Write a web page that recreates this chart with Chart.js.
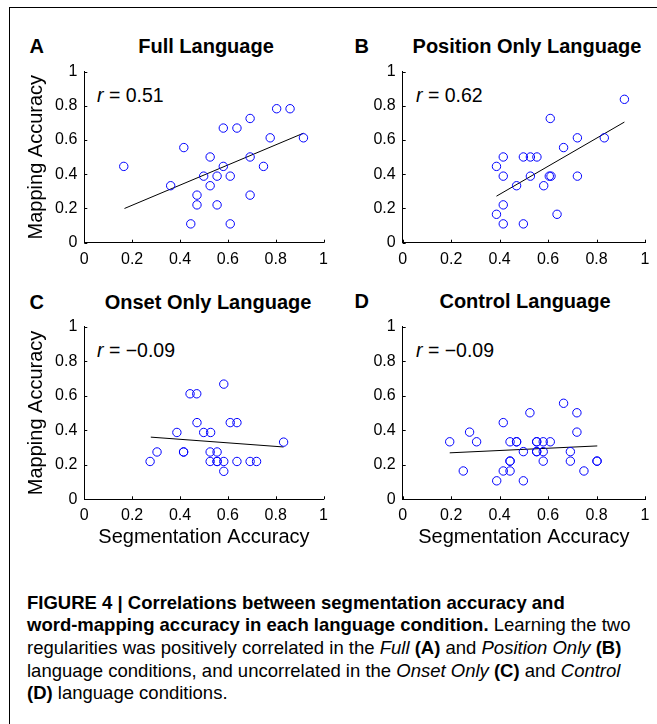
<!DOCTYPE html>
<html>
<head>
<meta charset="utf-8">
<script src="https://cdn.jsdelivr.net/npm/chart.js@4.4.1/dist/chart.umd.min.js"></script>
<style>
  html, body { margin: 0; padding: 0; background: #fff; }
  #page { position: relative; width: 657px; height: 724px; overflow: hidden; font-family: "Liberation Sans", Arial, sans-serif; color: #000; }
  #page canvas { position: absolute; }
  .frame { position: absolute; left: 8.5px; top: 6.5px; width: 700px; height: 800px; border-top: 1.6px solid #000; border-left: 1.6px solid #000; }
  .lbl { position: absolute; white-space: nowrap; }
  .letter { font-weight: bold; font-size: 20px; line-height: 20px; }
  .ptitle { font-weight: bold; font-size: 20px; line-height: 20px; transform: translateX(-50%); }
  .rtxt { font-size: 19.5px; line-height: 19.5px; }
  .caption { position: absolute; left: 27px; top: 591.5px; font-size: 18.5px; line-height: 22.7px; white-space: nowrap; }
</style>
</head>
<body>
<div id="page">
  <div class="frame"></div>

  <div class="lbl letter" style="left:29.5px; top:36px;">A</div>
  <div class="lbl ptitle" style="left:206px; top:36px;">Full Language</div>
  <div class="lbl letter" style="left:354.5px; top:36px;">B</div>
  <div class="lbl ptitle" style="left:527px; top:36px;">Position Only Language</div>
  <div class="lbl letter" style="left:29.5px; top:291.5px;">C</div>
  <div class="lbl ptitle" style="left:208px; top:291.5px;">Onset Only Language</div>
  <div class="lbl letter" style="left:354.5px; top:290.5px;">D</div>
  <div class="lbl ptitle" style="left:525px; top:290.5px;">Control Language</div>

  <div class="lbl rtxt" style="left:97px; top:85.5px;"><i>r</i> = 0.51</div>
  <div class="lbl rtxt" style="left:416px; top:85.5px;"><i>r</i> = 0.62</div>
  <div class="lbl rtxt" style="left:97px; top:340.5px;"><i>r</i> = −0.09</div>
  <div class="lbl rtxt" style="left:416px; top:340.5px;"><i>r</i> = −0.09</div>

  <div class="caption">
    <b>FIGURE 4 | Correlations between segmentation accuracy and</b><br>
    <b>word-mapping accuracy in each language condition.</b> Learning the two<br>
    regularities was positively correlated in the <i>Full</i> <b>(A)</b> and <i>Position Only</i> <b>(B)</b><br>
    language conditions, and uncorrelated in the <i>Onset Only</i> <b>(C)</b> and <i>Control</i><br>
    <b>(D)</b> language conditions.
  </div>
</div>

<script>
// tick values and labels (shared by both axes of every panel)
const tickValues = [0, 0.2, 0.4, 0.6, 0.8, 1];
const tickLabels = ["0", "0.2", "0.4", "0.6", "0.8", "1"];

// A: Full Language
const fullX = [0.165, 0.361, 0.416, 0.445, 0.471, 0.471, 0.499, 0.526, 0.526, 0.555, 0.555, 0.581,
               0.581, 0.610, 0.610, 0.638, 0.693, 0.693, 0.693, 0.749, 0.777, 0.804, 0.860, 0.916];
const fullY = [0.446, 0.333, 0.556, 0.110, 0.278, 0.221, 0.389, 0.501, 0.333, 0.389, 0.221, 0.670,
               0.446, 0.389, 0.110, 0.670, 0.726, 0.501, 0.278, 0.446, 0.613, 0.783, 0.783, 0.613];
const fullFitX = [0.168, 0.916];
const fullFitY = [0.200, 0.640];

// B: Position Only Language
const positionX = [0.387, 0.387, 0.415, 0.415, 0.415, 0.415, 0.470, 0.498, 0.498, 0.527, 0.527,
                   0.554, 0.582, 0.609, 0.605, 0.612, 0.637, 0.664, 0.721, 0.721, 0.832, 0.915];
const positionY = [0.446, 0.166, 0.501, 0.389, 0.221, 0.110, 0.333, 0.501, 0.110, 0.501, 0.389,
                   0.501, 0.333, 0.726, 0.389, 0.389, 0.166, 0.556, 0.613, 0.389, 0.613, 0.838];
const positionFitX = [0.387, 0.915];
const positionFitY = [0.272, 0.705];

// C: Onset Only Language
const onsetX = [0.275, 0.304, 0.387, 0.415, 0.415, 0.442, 0.470, 0.471, 0.499, 0.528, 0.526, 0.526,
                0.555, 0.555, 0.555, 0.583, 0.583, 0.583, 0.610, 0.638, 0.638, 0.693, 0.720, 0.833];
const onsetY = [0.219, 0.274, 0.387, 0.274, 0.274, 0.611, 0.611, 0.444, 0.387, 0.387, 0.274, 0.219,
                0.274, 0.219, 0.219, 0.667, 0.219, 0.162, 0.444, 0.444, 0.219, 0.219, 0.219, 0.331];
const onsetFitX = [0.278, 0.833];
const onsetFitY = [0.360, 0.303];

// D: Control Language
const controlX = [0.194, 0.250, 0.276, 0.305, 0.388, 0.415, 0.415, 0.443, 0.443, 0.443, 0.443, 0.470,
                  0.470, 0.498, 0.498, 0.525, 0.553, 0.553, 0.553, 0.553, 0.580, 0.580, 0.580, 0.609,
                  0.664, 0.692, 0.692, 0.719, 0.719, 0.748, 0.802, 0.802];
const controlY = [0.333, 0.164, 0.389, 0.333, 0.107, 0.444, 0.164, 0.333, 0.221, 0.221, 0.164, 0.333,
                  0.333, 0.276, 0.107, 0.501, 0.333, 0.333, 0.276, 0.276, 0.333, 0.276, 0.221, 0.333,
                  0.556, 0.276, 0.221, 0.501, 0.389, 0.164, 0.221, 0.221];
const controlFitX = [0.194, 0.803];
const controlFitY = [0.269, 0.309];

const toPoints = (xs, ys) => xs.map((x, i) => ({ x: x, y: ys[i] }));

// MATLAB style ticks pointing into the axes
const inwardTicks = {
  id: "inwardTicks",
  afterDraw(chart) {
    const { ctx, chartArea } = chart;
    const x = chart.scales.x, y = chart.scales.y;
    ctx.save();
    ctx.strokeStyle = "#000";
    ctx.lineWidth = 1;
    x.ticks.forEach((t) => {
      const px = Math.round(x.getPixelForValue(t.value)) + 0.5;
      ctx.beginPath();
      ctx.moveTo(px, chartArea.bottom);
      ctx.lineTo(px, chartArea.bottom - 3);
      ctx.stroke();
    });
    y.ticks.forEach((t) => {
      const py = Math.round(y.getPixelForValue(t.value)) + 0.5;
      ctx.beginPath();
      ctx.moveTo(chartArea.left, py);
      ctx.lineTo(chartArea.left + 3, py);
      ctx.stroke();
    });
    ctx.restore();
  },
};

const tickFont = { family: "'Liberation Sans', Arial, sans-serif", size: 16 };
const titleFont = { family: "'Liberation Sans', Arial, sans-serif", size: 20 };

const makePanel = (p) => {
  const canvas = document.createElement("canvas");
  canvas.width = p.w;
  canvas.height = p.h;
  canvas.style.left = p.left + "px";
  canvas.style.top = p.top + "px";
  canvas.style.width = p.w + "px";
  canvas.style.height = p.h + "px";
  document.getElementById("page").appendChild(canvas);

  new Chart(canvas, {
    type: "scatter",
    data: {
      datasets: [
        {
          data: toPoints(p.xs, p.ys),
          pointStyle: "circle",
          pointRadius: 4.2,
          borderColor: "#0000ff",
          backgroundColor: "rgba(0,0,0,0)",
          borderWidth: 1,
        },
        {
          data: toPoints(p.fitX, p.fitY),
          showLine: true,
          pointRadius: 0,
          borderColor: "#000",
          borderWidth: 1,
        },
      ],
    },
    options: {
      responsive: false,
      animation: false,
      clip: false,
      layout: { padding: { left: 0, right: p.padRight, top: p.padTop, bottom: 0 } },
      plugins: { legend: { display: false }, tooltip: { enabled: false } },
      scales: {
        x: {
          type: "linear",
          min: 0,
          max: 1,
          afterBuildTicks: (s) => { s.ticks = tickValues.map((v) => ({ value: v })); },
          afterFit: (s) => { s.height = p.xHeight; },
          ticks: {
            callback: (v, i) => tickLabels[i],
            font: tickFont,
            color: "#000",
            padding: 7,
            maxRotation: 0,
          },
          grid: { drawOnChartArea: false, drawTicks: false },
          border: { color: "#000", width: 1 },
          title: {
            display: p.xTitle,
            text: "Segmentation Accuracy",
            font: titleFont,
            color: "#000",
            padding: { top: 0, bottom: 11 },
          },
        },
        y: {
          type: "linear",
          min: 0,
          max: 1,
          afterBuildTicks: (s) => { s.ticks = tickValues.map((v) => ({ value: v })); },
          afterFit: (s) => { s.width = p.yWidth; },
          ticks: {
            callback: (v, i) => tickLabels[i],
            font: tickFont,
            color: "#000",
            padding: 7,
          },
          grid: { drawOnChartArea: false, drawTicks: false },
          border: { color: "#000", width: 1 },
          title: {
            display: p.yTitle,
            text: "Mapping Accuracy",
            font: titleFont,
            color: "#000",
            padding: { top: 14, bottom: 0 },
          },
        },
      },
    },
    plugins: [inwardTicks],
  });
};

makePanel({ left: 10, top: 55, w: 325, h: 230, yWidth: 74.3, xHeight: 42.3, padTop: 12.7, padRight: 8,
            xs: fullX, ys: fullY, fitX: fullFitX, fitY: fullFitY, xTitle: false, yTitle: true });
makePanel({ left: 335, top: 55, w: 322, h: 230, yWidth: 67.7, xHeight: 42.3, padTop: 12.7, padRight: 12,
            xs: positionX, ys: positionY, fitX: positionFitX, fitY: positionFitY, xTitle: false, yTitle: false });
makePanel({ left: 10, top: 310, w: 325, h: 250, yWidth: 74.3, xHeight: 60.7, padTop: 14, padRight: 8,
            xs: onsetX, ys: onsetY, fitX: onsetFitX, fitY: onsetFitY, xTitle: true, yTitle: true });
makePanel({ left: 335, top: 310, w: 322, h: 250, yWidth: 67.7, xHeight: 60.7, padTop: 14.3, padRight: 12,
            xs: controlX, ys: controlY, fitX: controlFitX, fitY: controlFitY, xTitle: true, yTitle: false });
</script>
</body>
</html>
